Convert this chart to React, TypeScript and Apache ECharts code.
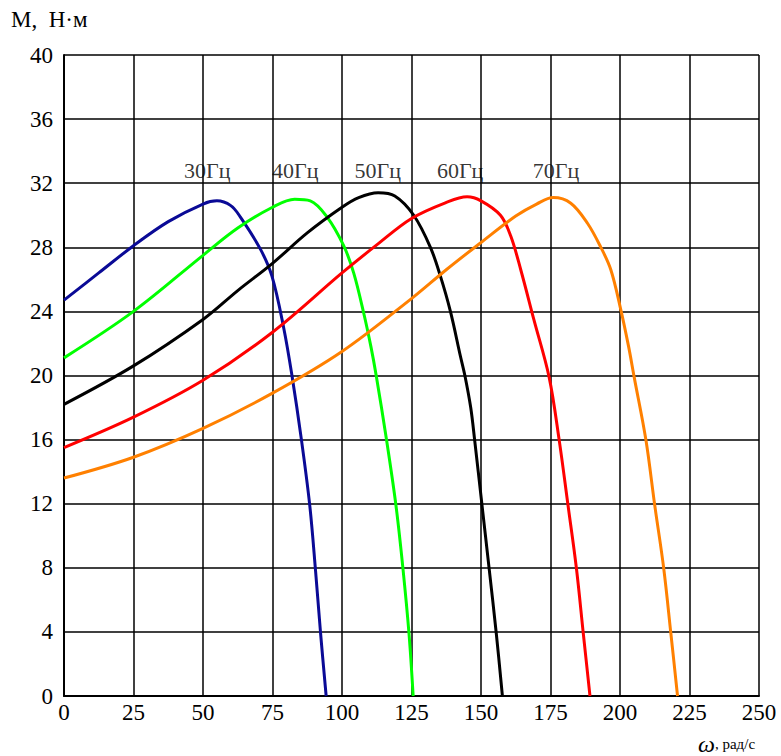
import React, { useEffect, useRef } from "react";
import * as echarts from "echarts";

// Torque–speed curves M(ω) for several supply frequencies
const freqNames = ["30Гц", "40Гц", "50Гц", "60Гц", "70Гц"];
const colors = ["#0a0a96", "#00ff00", "#000000", "#ff0000", "#ff8000"];

const f30: number[][] = [
  [0, 24.7], [12.5, 26.4], [25, 28.1], [37.5, 29.6], [50, 30.7], [55, 30.9], [60, 30.6],
  [63.4, 29.9], [70.6, 27.9], [74.8, 26.2], [79, 23.0], [82, 20], [85.4, 16], [88.4, 11.9],
  [90.4, 8], [92.3, 3.9], [94.3, 0],
];
const f40: number[][] = [
  [0, 21.1], [25, 24.0], [50, 27.5], [62.5, 29.2], [75, 30.5], [83, 31.0], [88.6, 30.9],
  [94.6, 29.9], [100.6, 28.1], [104.2, 26.4], [107.8, 23.9], [110.4, 21.8], [112.3, 20],
  [116, 16], [119.4, 11.9], [121.9, 8], [124.1, 3.9], [125.6, 0],
];
const f50: number[][] = [
  [0, 18.2], [25, 20.6], [50, 23.5], [62.5, 25.3], [75, 27.0], [87.5, 28.9], [100, 30.5],
  [106, 31.1], [113, 31.4], [119, 31.2], [125.8, 30.0], [131.8, 28.0], [135.4, 26.2],
  [139, 24.0], [142.6, 21.2], [144.2, 20], [146.3, 18], [147.7, 16], [150.3, 12],
  [152.9, 8], [155.5, 3.9], [157.7, 0],
];
const f60: number[][] = [
  [0, 15.5], [25, 17.4], [50, 19.7], [75, 22.7], [100, 26.4], [112.5, 28.15], [125, 29.8],
  [137.5, 30.8], [145, 31.15], [150, 30.9], [157, 30.0], [160.7, 28.7], [164.3, 26.6],
  [169, 23.5], [174.5, 19.9], [178.1, 16], [181.3, 11.9], [184.3, 8], [186.8, 3.9], [189.2, 0],
];
const f70: number[][] = [
  [0, 13.6], [25, 14.9], [50, 16.7], [75, 18.9], [100, 21.5], [125, 24.8], [137.5, 26.6],
  [150, 28.3], [162.5, 29.95], [170, 30.7], [176, 31.1], [182.3, 30.75], [188.3, 29.5],
  [193.1, 28.0], [196.7, 26.6], [200.3, 24.1], [203.1, 21.8], [205.1, 19.9], [209.3, 16],
  [212.5, 11.9], [215.7, 8], [218.3, 3.9], [220.7, 0],
];
const curves = [f30, f40, f50, f60, f70];

// Frequency label anchor positions (data coords)
const labelX = [51.5, 83.2, 112.9, 142.5, 177];
const labelY = [32.8, 32.8, 32.8, 32.8, 32.8];

const FONT = "Liberation Serif";

export default function App() {
  const ref = useRef<HTMLDivElement>(null);
  useEffect(() => {
    document.body.style.margin = "0";
    const chart = echarts.init(ref.current!, null, { renderer: "svg" });
    const lineSeries = curves.map((d, i) => ({
      type: "line",
      name: freqNames[i],
      data: d,
      smooth: 0.35,
      showSymbol: false,
      lineStyle: { color: colors[i], width: 3 },
      z: 3,
    }));
    chart.setOption({
      animation: false,
      backgroundColor: "#ffffff",
      textStyle: { fontFamily: FONT },
      grid: { left: 64, top: 55, width: 695, height: 641, show: false },
      xAxis: {
        type: "value",
        min: 0,
        max: 250,
        interval: 25,
        axisLine: { show: true, lineStyle: { color: "#000", width: 2 } },
        axisTick: { show: false },
        splitLine: { show: true, lineStyle: { color: "#000", width: 1.5 } },
        axisLabel: {
          color: "#000",
          fontFamily: FONT,
          fontSize: 23,
          margin: 5,
          showMinLabel: true,
          showMaxLabel: true,
        },
      },
      yAxis: {
        type: "value",
        min: 0,
        max: 40,
        interval: 4,
        axisLine: { show: true, lineStyle: { color: "#000", width: 2 } },
        axisTick: { show: false },
        splitLine: { show: true, lineStyle: { color: "#000", width: 1.5 } },
        axisLabel: {
          color: "#000",
          fontFamily: FONT,
          fontSize: 23,
          margin: 11,
          padding: [6, 0, 0, 0],
        },
      },
      series: [
        ...lineSeries,
        {
          type: "scatter",
          data: labelX.map((x, i) => [x, labelY[i], freqNames[i]]),
          symbolSize: 0,
          silent: true,
          z: 5,
          label: {
            show: true,
            position: "inside",
            formatter: (p: any) => p.data[2],
            color: "#000",
            fontFamily: FONT,
            fontSize: 22,
          },
        },
      ],
      graphic: [
        {
          type: "text",
          left: 11,
          top: 8,
          style: { text: "М,  Н·м", fill: "#000", font: `23px ${FONT}` },
        },
        {
          type: "text",
          left: 698,
          top: 732,
          style: {
            text: "{w|ω}{r|, рад/с}",
            rich: {
              w: { fontFamily: FONT, fontSize: 24, fontStyle: "italic", fill: "#000" },
              r: { fontFamily: FONT, fontSize: 15, fill: "#000" },
            },
          },
        },
      ],
    });
    return () => chart.dispose();
  }, []);
  return (
    <>
      <style>{`#chart-root text, #chart-root tspan, #chart-root svg * { font-family: "Liberation Serif", serif !important; }`}</style>
      <div
        id="chart-root"
        ref={ref}
        style={{ position: "absolute", left: 0, top: 0, width: 781, height: 756, fontFamily: "Liberation Serif" }}
      />
    </>
  );
}
